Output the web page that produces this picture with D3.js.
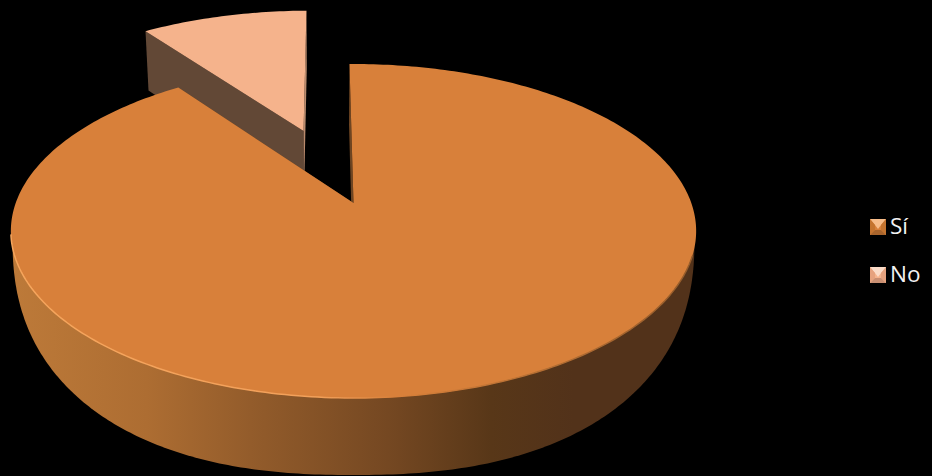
<!DOCTYPE html>
<html lang="es">
<head>
<meta charset="utf-8">
<script src="https://cdn.jsdelivr.net/npm/d3@7"></script>
<style>
  html, body { margin: 0; padding: 0; background: #000; }
  svg { display: block; }
  text { font-family: "Open Sans", Lato, sans-serif; }
</style>
</head>
<body>
<svg id="chart" width="932" height="476"></svg>
<script>
const categories = ["Sí", "No"];
const values = [90.2, 9.8];
const topColors = ["#d8803a", "#f5b38c"];
const leftCutColors = ["#6e4522", "#624836"];
const rightCutColors = ["#6e4522", "#b98a6c"];
const explosion = [0, 0.505];

// Perspective planes of the upper face and the base of the disc.
const upper = { cx: 353.5, cy: 203, a: 337.8, b: 162.3, k: 0.1677 };
const lower = { cx: 353, cy: 271, a: 331.4, b: 170.2, k: 0.1657 };
// Outline of the disc's front wall, slightly squarer than an ellipse.
const wallEdge = { cx: 353.5, cy: 238, rx: 341, ry: 237, power: 2.35 };
const firstAngle = -0.8 * Math.PI / 180;

const svg = d3.select("#chart");
const defs = svg.append("defs");

// Circle coordinates to screen through the given plane.
function project(plane, u, v) {
  const w = 1 + plane.k * v;
  return [plane.cx + plane.a * u / w, plane.cy - plane.b * v / w];
}

const slices = d3.pie().sort(null).value(d => d)
  .startAngle(firstAngle).endAngle(firstAngle + 2 * Math.PI)(values);

const line = d3.line();

function offsetOf(slice, i) {
  const mid = (slice.startAngle + slice.endAngle) / 2;
  return [explosion[i] * Math.sin(mid), explosion[i] * Math.cos(mid)];
}

function rim(plane, slice, off) {
  const n = Math.max(8, Math.ceil((slice.endAngle - slice.startAngle) * 60));
  return d3.range(n + 1).map(j => {
    const t = slice.startAngle + (slice.endAngle - slice.startAngle) * j / n;
    return project(plane, off[0] + Math.sin(t), off[1] + Math.cos(t));
  });
}

function cutFace(off, angle) {
  const edge = [off[0] + Math.sin(angle), off[1] + Math.cos(angle)];
  return [
    project(upper, off[0], off[1]),
    project(upper, edge[0], edge[1]),
    project(lower, edge[0], edge[1]),
    project(lower, off[0], off[1])
  ];
}

function wallOutline() {
  const e = 2 / wallEdge.power;
  return d3.range(0, 241).map(j => {
    const t = Math.PI * j / 240;
    const c = Math.cos(t), s = Math.sin(t);
    return [
      wallEdge.cx + wallEdge.rx * Math.sign(c) * Math.pow(Math.abs(c), e),
      wallEdge.cy + wallEdge.ry * Math.pow(s, e)
    ];
  });
}

// Shading of the outer wall runs from lit left to shaded right.
const wall = defs.append("linearGradient").attr("id", "wallShade")
  .attr("gradientUnits", "userSpaceOnUse")
  .attr("x1", 10).attr("x2", 697).attr("y1", 0).attr("y2", 0);
[[0, "#bd7a39"], [0.2, "#ad6d32"], [0.35, "#935c2b"], [0.55, "#754822"],
 [0.7, "#583718"], [0.82, "#52321a"], [1, "#52321a"]]
  .forEach(s => wall.append("stop").attr("offset", s[0]).attr("stop-color", s[1]));

// Bevel along the rim of the upper face.
const bevel = defs.append("linearGradient").attr("id", "rimShade")
  .attr("gradientUnits", "userSpaceOnUse")
  .attr("x1", 10).attr("x2", 697).attr("y1", 0).attr("y2", 0);
[[0, "#f6a55c"], [0.45, "#f2a05a"], [0.56, "#d8803a"], [0.8, "#b06c32"], [1, "#955b2a"]]
  .forEach(s => bevel.append("stop").attr("offset", s[0]).attr("stop-color", s[1]));
defs.append("filter").attr("id", "soften")
  .append("feGaussianBlur").attr("stdDeviation", 0.6);

// The exploded slice is painted first, since the large one overlaps it.
[1, 0].forEach(i => {
  const slice = slices[i];
  const off = offsetOf(slice, i);
  const g = svg.append("g").attr("class", "slice").attr("data-category", categories[i]);

  if (i === 0) {
    g.append("path").attr("d", line(wallOutline()) + "Z").attr("fill", "url(#wallShade)");
  }
  g.append("path").attr("d", line(cutFace(off, slice.startAngle)) + "Z")
    .attr("fill", i === 0 ? rightCutColors[i] : leftCutColors[i]);
  g.append("path").attr("d", line(cutFace(off, slice.endAngle)) + "Z")
    .attr("fill", i === 0 ? leftCutColors[i] : rightCutColors[i]);

  const centre = project(upper, off[0], off[1]);
  const face = [centre].concat(rim(upper, slice, off));
  g.append("path").attr("d", line(face) + "Z").attr("fill", topColors[i]);

  if (i === 0) {
    // Front part of the rim only, where the bevel catches the light.
    const frontRim = { startAngle: Math.PI * 0.6, endAngle: Math.PI * 1.44 };
    g.append("path").attr("d", line(rim(upper, frontRim, off)))
      .attr("fill", "none").attr("stroke", "url(#rimShade)")
      .attr("stroke-width", 1.5).attr("filter", "url(#soften)");
  }
});

// Legend with bevelled keys.
const legendY = d3.scalePoint().domain(categories).range([227, 275]);
const lightKey = ["#f7bd8a", "#fbdcc8"];
const darkKey = ["#a8642c", "#c98f72"];
const sideKey = ["#c4742f", "#e6a27e"];
const keySize = 16, keyBevel = 5;

categories.forEach((name, i) => {
  const y = legendY(name), x = 878;
  const h = keySize / 2, b = h - keyBevel;
  const g = svg.append("g").attr("class", "legend-item");
  g.append("rect").attr("x", x - h).attr("y", y - h)
    .attr("width", keySize).attr("height", keySize).attr("fill", topColors[i]);
  const sq = [[x - h, y - h], [x + h, y - h], [x + h, y + h], [x - h, y + h]];
  const inner = [[x - b, y - b + 1], [x + b, y - b + 1], [x + b, y + b], [x - b, y + b]];
  g.append("path").attr("d", line([sq[0], sq[1], inner[1], [x, y + 2], inner[0]]) + "Z").attr("fill", lightKey[i]);
  g.append("path").attr("d", line([sq[0], inner[0], inner[3], sq[3]]) + "Z").attr("fill", sideKey[i]);
  g.append("path").attr("d", line([sq[1], inner[1], inner[2], sq[2]]) + "Z").attr("fill", sideKey[i]);
  g.append("path").attr("d", line([sq[3], inner[3], inner[2], sq[2]]) + "Z").attr("fill", darkKey[i]);
  g.append("text").attr("x", 890).attr("y", y + 7)
    .attr("font-size", 22.5).attr("fill", "#f2f2f2").text(name);
});
</script>
</body>
</html>
